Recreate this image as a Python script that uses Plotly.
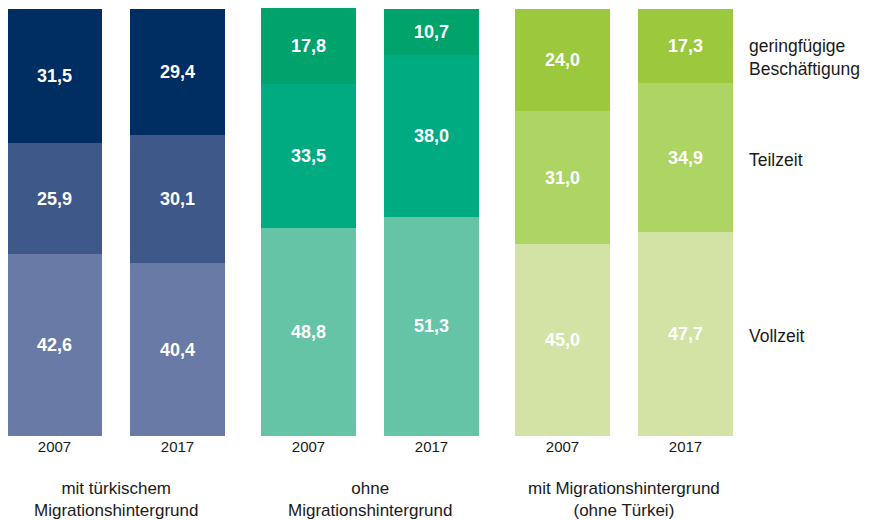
import plotly.graph_objects as go

groups = ["mit türkischem<br>Migrationshintergrund", "ohne<br>Migrationshintergrund",
          "mit Migrationshintergrund<br>(ohne Türkei)"]
years = ["2007", "2017"]
series = ["Vollzeit", "Teilzeit", "geringfügige<br>Beschäftigung"]

vollzeit = [42.6, 40.4, 48.8, 51.3, 45.0, 47.7]
teilzeit = [25.9, 30.1, 33.5, 38.0, 31.0, 34.9]
gering = [31.5, 29.4, 17.8, 10.7, 24.0, 17.3]

palettes = [
    ["#6a7aa7", "#3d5889", "#002d62"],
    ["#65c4a6", "#00ab81", "#00a36c"],
    ["#d2e3a5", "#aed463", "#9bc83c"],
]

FONT = "Liberation Sans, Arial, sans-serif"

# layout geometry (page pixels; the html body adds an 8px margin)
PAGE_OFF = 8
first_center = 54.5
year_step = 123
group_step = 254
bar_w = 95

xs, colors_by_series = [], [[], [], []]
for g in range(len(groups)):
    for yi in range(len(years)):
        xs.append(first_center + g * group_step + yi * year_step)
        for s in range(3):
            colors_by_series[s].append(palettes[g][s])

def fmt(v):
    return f"{v:.1f}".replace(".", ",")

fig = go.Figure()
for s, vals in enumerate([vollzeit, teilzeit, gering]):
    fig.add_trace(go.Bar(
        x=xs, y=vals, width=bar_w,
        marker=dict(color=colors_by_series[s], line=dict(width=0)),
        text=[fmt(v) for v in vals],
        textposition="inside", insidetextanchor="middle",
        textfont=dict(family=FONT, size=18, color="white", weight="bold"),
        textangle=0,
        showlegend=False, hoverinfo="skip",
    ))

annotations = []
for g, name in enumerate(groups):
    cx = first_center + g * group_step + year_step / 2
    annotations.append(dict(x=cx, xref="x", y=-0.148, yref="paper", text=name,
                            showarrow=False, yanchor="middle", xanchor="center",
                            font=dict(family=FONT, size=17, color="#1a1a1a")))

legend_y = [23.4, 64.6, 88.5]
for s, name in enumerate(series):
    annotations.append(dict(x=747, xref="x", y=legend_y[s], yref="y", text=name,
                            showarrow=False, xanchor="left", yanchor="middle", align="left",
                            font=dict(family=FONT, size=17.5, color="#1a1a1a")))

fig.update_layout(
    barmode="stack",
    width=875 - PAGE_OFF, height=520 - PAGE_OFF,
    margin=dict(l=0, r=0, t=0, b=84),
    paper_bgcolor="white", plot_bgcolor="white",
    annotations=annotations,
    xaxis=dict(range=[PAGE_OFF, 875], tickvals=xs, ticktext=years * len(groups),
               showgrid=False, zeroline=False, showline=False, ticks="",
               tickfont=dict(family=FONT, size=15, color="#1a1a1a"), fixedrange=True),
    yaxis=dict(range=[0, 100.2], showgrid=False, zeroline=False, showline=False,
               showticklabels=False, fixedrange=True),
)

fig.write_html("out.html")
